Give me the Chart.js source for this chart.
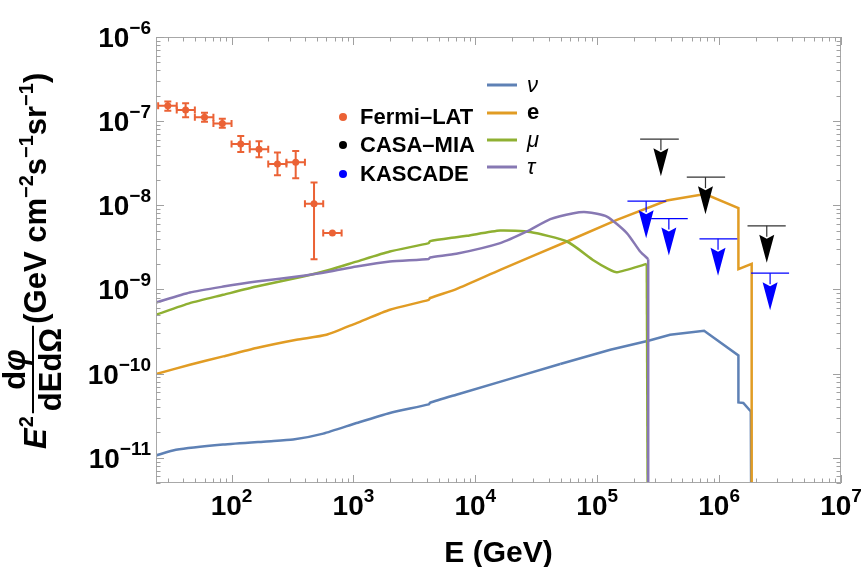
<!DOCTYPE html>
<html>
<head>
<meta charset="utf-8">
<script src="https://cdn.jsdelivr.net/npm/chart.js@4.4.0/dist/chart.umd.min.js"></script>
<style>
  html, body { margin: 0; padding: 0; background: #fff; }
  #wrap { width: 865px; height: 567px; }
</style>
</head>
<body>
<div id="wrap"><canvas id="chart" width="865" height="567"></canvas></div>
<script>
// flux curves, E^2 dphi/dE in GeV cm^-2 s^-1 sr^-1
const nuE    = [24, 35, 85, 194, 320, 565, 1060, 1990, 4150, 4250, 6980, 49700, 128000, 263000, 396000, 753000, 1440000, 1440000, 1580000, 1820000, 1850000];
const nuFlux = [1.06e-11, 1.24e-11, 1.43e-11, 1.56e-11, 1.64e-11, 1.93e-11, 2.58e-11, 3.4e-11, 4.3e-11, 4.5e-11, 5.6e-11, 1.30e-10, 1.92e-10, 2.45e-10, 2.89e-10, 3.23e-10, 1.64e-10, 4.54e-11, 4.47e-11, 3.55e-11, 1e-13];

const eE    = [24, 45.5, 85.5, 160, 341, 601, 1060, 1990, 4150, 4250, 6980, 16000, 56500, 145000, 372000, 767000, 1440000, 1440000, 1850000, 1850000];
const eFlux = [9.86e-11, 1.27e-10, 1.60e-10, 2.01e-10, 2.52e-10, 2.89e-10, 3.98e-10, 5.73e-10, 7.5e-10, 7.9e-10, 1.01e-9, 1.71e-9, 3.71e-9, 6.71e-9, 1.14e-8, 1.36e-8, 9.24e-9, 1.74e-9, 2.01e-9, 1e-13];

const muE    = [24, 45.5, 85.5, 160, 387, 640, 1060, 1990, 4150, 4250, 6980, 8550, 16000, 28200, 56500, 94400, 124000, 145000, 255000, 262000];
const muFlux = [4.99e-10, 6.87e-10, 8.63e-10, 1.08e-9, 1.42e-9, 1.71e-9, 2.14e-9, 2.82e-9, 3.55e-9, 3.75e-9, 4.18e-9, 4.34e-9, 5.01e-9, 4.80e-9, 3.71e-9, 2.19e-9, 1.74e-9, 1.60e-9, 2.01e-9, 1e-13];

const tauE    = [24, 45.5, 85.5, 160, 387, 640, 1060, 1990, 4150, 4250, 6980, 16000, 26500, 41200, 64000, 82400, 120000, 175000, 225000, 262000, 262000];
const tauFlux = [6.98e-10, 9.18e-10, 1.08e-9, 1.24e-9, 1.45e-9, 1.63e-9, 1.87e-9, 2.14e-9, 2.3e-9, 2.4e-9, 2.65e-9, 3.55e-9, 4.88e-9, 6.84e-9, 8.06e-9, 8.28e-9, 7.34e-9, 4.67e-9, 2.82e-9, 2.29e-9, 1e-13];

// index where each curve stops being smooth (sharp peaks and cutoffs after it)
const nuSmoothEnd = 11, eSmoothEnd = 12, muSmoothEnd = 18, tauSmoothEnd = 19;

// Fermi-LAT data points with bins and error bars
const fermiE    = [30, 42, 60, 84, 119, 168, 238, 336, 475, 672];
const fermiELo  = [25, 35.5, 50, 71, 100, 141, 200, 282, 400, 565];
const fermiEHi  = [35.5, 50, 71, 100, 141, 200, 282, 400, 565, 800];
const fermiFlux = [1.52e-7, 1.36e-7, 1.11e-7, 9.4e-8, 5.36e-8, 4.63e-8, 3.1e-8, 3.25e-8, 1.04e-8, 4.67e-9];
const fermiLo   = [1.33e-7, 1.11e-7, 9.8e-8, 8.36e-8, 4.3e-8, 3.72e-8, 2.27e-8, 2.1e-8, 2.29e-9, null];
const fermiHi   = [1.71e-7, 1.63e-7, 1.26e-7, 1.07e-7, 6.67e-8, 5.77e-8, 4.25e-8, 4.42e-8, 1.86e-8, null];

// upper limits
const casaE    = [3.33e5, 7.73e5, 2.46e6];
const casaELo  = [2.25e5, 5.43e5, 1.71e6];
const casaEHi  = [4.67e5, 1.12e6, 3.52e6];
const casaFlux = [6.1e-8, 2.16e-8, 5.69e-9];

const kasE    = [2.52e5, 3.87e5, 9.8e5, 2.62e6];
const kasELo  = [1.77e5, 2.77e5, 6.9e5, 1.83e6];
const kasEHi  = [3.68e5, 5.53e5, 1.41e6, 3.75e6];
const kasFlux = [1.12e-8, 6.95e-9, 3.99e-9, 1.56e-9];

const xDecades = [2, 3, 4, 5, 6, 7];
const yDecades = [-6, -7, -8, -9, -10, -11];
const lineNames = ['ν', 'e', 'μ', 'τ'];
const pointNames = ['Fermi\u2013LAT', 'CASA\u2013MIA', 'KASCADE'];

const F = '"Liberation Sans", Arial, sans-serif';
const colors = { nu: '#5E81B5', e: '#E19C24', mu: '#8FB032', tau: '#8778B3', fermi: '#EB6235', casa: '#000000', kas: '#0000FF' };

function pts(xs, ys) {
  return xs.map((x, i) => ({ x: x, y: ys[i] }));
}

// a curve is drawn as a smooth body plus a straight tail (peak, cutoff)
function lineSets(label, xs, ys, cut, color, order) {
  const all = pts(xs, ys);
  const common = { showLine: true, borderColor: color, borderWidth: 2.5, pointRadius: 0, pointHoverRadius: 0, order: order };
  return [
    Object.assign({ label: label, data: all.slice(0, cut + 1), tension: 0.2 }, common),
    Object.assign({ label: label + ' tail', data: all.slice(cut), tension: 0 }, common)
  ];
}

function arrowDown(ctx, x, y, color) {
  ctx.beginPath();
  ctx.moveTo(x, y);
  ctx.lineTo(x, y + 11);
  ctx.stroke();
  ctx.beginPath();
  ctx.moveTo(x - 7.5, y + 9);
  ctx.lineTo(x, y + 13);
  ctx.lineTo(x + 7.5, y + 9);
  ctx.lineTo(x, y + 37);
  ctx.closePath();
  ctx.fillStyle = color;
  ctx.fill();
}

function findSet(chart, label) {
  return chart.data.datasets.findIndex(d => d.label === label);
}

const errorBars = {
  id: 'errorBars',
  beforeDatasetDraw(chart, args) {
    if (args.index !== findSet(chart, 'Fermi-LAT')) return;
    const ctx = chart.ctx, xs = chart.scales.x, ys = chart.scales.y, a = chart.chartArea;
    ctx.save();
    ctx.beginPath();
    ctx.rect(a.left, a.top, a.right - a.left, a.bottom - a.top);
    ctx.clip();
    ctx.strokeStyle = colors.fermi;
    ctx.lineWidth = 2;
    fermiE.forEach((e, i) => {
      const px = xs.getPixelForValue(e), py = ys.getPixelForValue(fermiFlux[i]);
      const x1 = xs.getPixelForValue(fermiELo[i]), x2 = xs.getPixelForValue(fermiEHi[i]);
      ctx.beginPath();
      ctx.moveTo(x1, py); ctx.lineTo(x2, py);
      ctx.moveTo(x1, py - 3.5); ctx.lineTo(x1, py + 3.5);
      ctx.moveTo(x2, py - 3.5); ctx.lineTo(x2, py + 3.5);
      if (fermiLo[i] !== null) {
        const y1 = ys.getPixelForValue(fermiHi[i]), y2 = ys.getPixelForValue(fermiLo[i]);
        ctx.moveTo(px, y1); ctx.lineTo(px, y2);
        ctx.moveTo(px - 3.5, y1); ctx.lineTo(px + 3.5, y1);
        ctx.moveTo(px - 3.5, y2); ctx.lineTo(px + 3.5, y2);
      }
      ctx.stroke();
    });
    ctx.restore();
  },
  afterDatasetsDraw(chart) {
    const ctx = chart.ctx, xs = chart.scales.x;
    ctx.save();
    const limits = [['CASA-MIA', casaELo, casaEHi, '#333333', colors.casa], ['KASCADE', kasELo, kasEHi, colors.kas, colors.kas]];
    limits.forEach(([name, lo, hi, barColor, headColor]) => {
      const meta = chart.getDatasetMeta(findSet(chart, name));
      meta.data.forEach((p, i) => {
        ctx.strokeStyle = barColor;
        ctx.lineWidth = 1.2;
        ctx.beginPath();
        ctx.moveTo(xs.getPixelForValue(lo[i]), p.y);
        ctx.lineTo(xs.getPixelForValue(hi[i]), p.y);
        ctx.stroke();
        arrowDown(ctx, p.x, p.y, headColor);
      });
    });
    ctx.restore();
  }
};

function tickLabel(ctx, x, y, exp, align) {
  const big = 'bold 28px ' + F, small = 'bold 19px ' + F;
  const sup = exp < 0 ? '\u2212' + (-exp) : String(exp);
  ctx.font = big; const w1 = ctx.measureText('10').width;
  ctx.font = small; const w2 = ctx.measureText(sup).width;
  const x0 = align === 'right' ? x - w1 - w2 : x - (w1 + w2) / 2;
  ctx.font = big; ctx.fillText('10', x0, y);
  ctx.font = small; ctx.fillText(sup, x0 + w1, y - 13);
}

const frame = {
  id: 'frame',
  afterDraw(chart) {
    const ctx = chart.ctx, xs = chart.scales.x, ys = chart.scales.y, a = chart.chartArea;
    ctx.save();
    ctx.strokeStyle = '#a8a8a8';
    ctx.lineWidth = 1;
    ctx.strokeRect(a.left + 0.5, a.top + 0.5, a.right - a.left - 1, a.bottom - a.top - 1);
    ctx.strokeStyle = '#a0a0a0';
    ctx.beginPath();
    for (let k = 1; k <= 7; k++) {
      for (let m = 1; m <= 9; m++) {
        const v = m * Math.pow(10, k);
        if (v < xs.min || v > xs.max) continue;
        const px = Math.round(xs.getPixelForValue(v)) + 0.5, len = m === 1 ? 8 : 4.5;
        ctx.moveTo(px, a.bottom); ctx.lineTo(px, a.bottom - len);
        ctx.moveTo(px, a.top); ctx.lineTo(px, a.top + len);
      }
    }
    for (let k = -12; k <= -6; k++) {
      for (let m = 1; m <= 9; m++) {
        const v = m * Math.pow(10, k);
        if (v < ys.min * 0.999 || v > ys.max * 1.001) continue;
        const py = Math.round(ys.getPixelForValue(v)) + 0.5, len = m === 1 ? 8 : 4.5;
        ctx.moveTo(a.left, py); ctx.lineTo(a.left + len, py);
        ctx.moveTo(a.right, py); ctx.lineTo(a.right - len, py);
      }
    }
    ctx.stroke();

    ctx.fillStyle = '#000';
    ctx.textBaseline = 'alphabetic';
    xDecades.forEach(k => tickLabel(ctx, xs.getPixelForValue(Math.pow(10, k)), 515, k, 'center'));
    yDecades.forEach(k => tickLabel(ctx, 151, ys.getPixelForValue(Math.pow(10, k)) + 10, k, 'right'));

    // x title
    ctx.font = 'bold 30px ' + F;
    ctx.textAlign = 'center';
    ctx.fillText('E (GeV)', (a.left + a.right) / 2, 562);
    ctx.textAlign = 'left';

    // y title, rotated
    ctx.translate(0, 449);
    ctx.rotate(-Math.PI / 2);
    let x = 0;
    const base = 46, supBase = 33;
    const put = (t, font, y) => { ctx.font = font; ctx.fillText(t, x, y); x += ctx.measureText(t).width; };
    put('E', 'italic bold 31px ' + F, base);
    x += 1;
    put('2', 'bold 20px ' + F, supBase);
    x += 3;
    ctx.font = 'bold 31px ' + F;
    const wd = ctx.measureText('d').width;
    ctx.font = 'italic bold 31px ' + F;
    const wphi = ctx.measureText('φ').width;
    ctx.font = 'bold 31px ' + F;
    const wden = ctx.measureText('dEdΩ').width;
    const fw = Math.max(wd + wphi, wden) + 4;
    ctx.lineWidth = 2;
    ctx.strokeStyle = '#000';
    ctx.beginPath(); ctx.moveTo(x, 33); ctx.lineTo(x + fw, 33); ctx.stroke();
    const nx = x + (fw - wd - wphi) / 2;
    ctx.font = 'bold 31px ' + F; ctx.fillText('d', nx, 25);
    ctx.font = 'italic bold 31px ' + F; ctx.fillText('φ', nx + wd, 25);
    ctx.font = 'bold 31px ' + F; ctx.fillText('dEdΩ', x + (fw - wden) / 2, 61);
    x += fw + 2;
    put('(GeV cm', 'bold 31px ' + F, base);
    put('\u22122', 'bold 20px ' + F, supBase);
    put('s', 'bold 31px ' + F, base);
    put('\u22121', 'bold 20px ' + F, supBase);
    put('sr', 'bold 31px ' + F, base);
    put('\u22121', 'bold 20px ' + F, supBase);
    put(')', 'bold 31px ' + F, base);
    ctx.setTransform(1, 0, 0, 1, 0, 0);

    // legends
    const dotColors = [colors.fermi, colors.casa, colors.kas];
    const dotY = [117, 145, 174];
    ctx.textBaseline = 'middle';
    pointNames.forEach((n, i) => {
      ctx.fillStyle = dotColors[i];
      ctx.beginPath(); ctx.arc(343, dotY[i], 4, 0, Math.PI * 2); ctx.fill();
      ctx.fillStyle = '#000';
      ctx.font = 'bold 22px ' + F;
      ctx.fillText(n, 360, dotY[i] + 1);
    });
    const lineColors = [colors.nu, colors.e, colors.mu, colors.tau];
    const lineY = [85, 113, 140, 167];
    lineNames.forEach((n, i) => {
      ctx.strokeStyle = lineColors[i];
      ctx.lineWidth = 3;
      ctx.beginPath(); ctx.moveTo(487, lineY[i]); ctx.lineTo(517, lineY[i]); ctx.stroke();
      ctx.fillStyle = '#000';
      ctx.font = (n === 'e' ? 'bold 22px ' : 'italic 22px ') + F;
      ctx.fillText(n, 527, lineY[i] + (n === 'e' ? 0 : 1));
    });
    ctx.restore();
  }
};

new Chart(document.getElementById('chart'), {
  type: 'scatter',
  data: {
    datasets: [
      ...lineSets('ν', nuE, nuFlux, nuSmoothEnd, colors.nu, 8),
      ...lineSets('e', eE, eFlux, eSmoothEnd, colors.e, 7),
      ...lineSets('μ', muE, muFlux, muSmoothEnd, colors.mu, 6),
      ...lineSets('τ', tauE, tauFlux, tauSmoothEnd, colors.tau, 5),
      { label: 'Fermi-LAT', data: pts(fermiE, fermiFlux), pointRadius: 3.5, pointHoverRadius: 3.5,
        backgroundColor: colors.fermi, borderWidth: 0, showLine: false, order: 3 },
      { label: 'CASA-MIA', data: pts(casaE, casaFlux), pointRadius: 0, showLine: false, order: 2 },
      { label: 'KASCADE', data: pts(kasE, kasFlux), pointRadius: 0, showLine: false, order: 1 }
    ]
  },
  options: {
    responsive: false,
    animation: false,
    devicePixelRatio: 1,
    layout: { padding: { left: 156, right: 24, top: 37, bottom: 84 } },
    plugins: { legend: { display: false }, tooltip: { enabled: false } },
    scales: {
      x: { type: 'logarithmic', min: 24, max: 1e7, display: false },
      y: { type: 'logarithmic', min: 5e-12, max: 1e-6, display: false }
    }
  },
  plugins: [errorBars, frame]
});
</script>
</body>
</html>
